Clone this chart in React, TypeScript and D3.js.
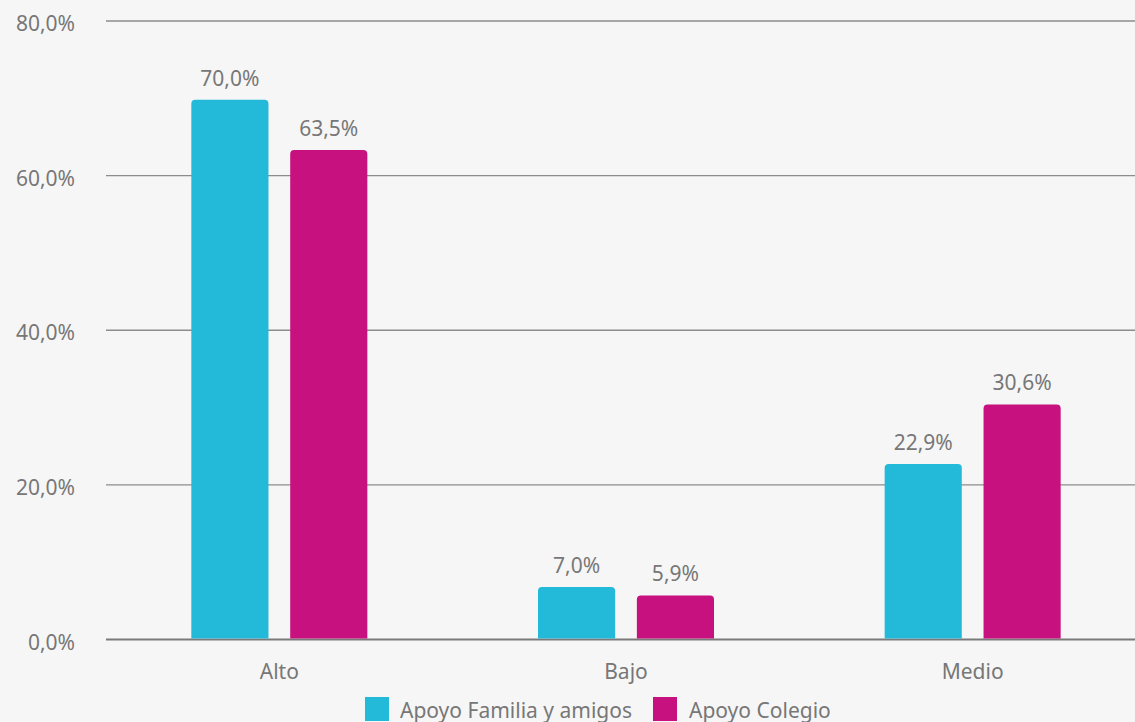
import React from "react";
import * as d3 from "d3";

const categories = ["Alto", "Bajo", "Medio"];
const seriesNames = ["Apoyo Familia y amigos", "Apoyo Colegio"];
const familiaValues = [70.0, 7.0, 22.9];
const colegioValues = [63.5, 5.9, 30.6];
const yTicks = [0, 20, 40, 60, 80];
const colors = ["#23b9d9", "#c6117e"];

const W = 1135;
const H = 722;

const fmt = (v: number) => v.toFixed(1).replace(".", ",") + "%";

function topRoundedRect(x: number, y: number, w: number, h: number, r: number) {
  const rr = Math.min(r, h / 2, w / 2);
  return `M${x},${y + h}V${y + rr}Q${x},${y} ${x + rr},${y}H${x + w - rr}Q${x + w},${y} ${x + w},${y + rr}V${y + h}Z`;
}

export default function App() {
  const y = d3.scaleLinear().domain([0, 80]).range([639.5, 21]);
  const x0 = d3.scaleBand<string>().domain(categories).range([106, 1146]).padding(0);
  const bw = x0.bandwidth();
  const x1 = d3
    .scaleBand<string>()
    .domain(seriesNames)
    .range([bw / 2 - 88, bw / 2 + 88])
    .paddingInner(0.22)
    .paddingOuter(0);
  const seriesValues = [familiaValues, colegioValues];
  const font = "'Source Sans Pro', 'Noto Sans', 'Open Sans', sans-serif";
  const textColor = "#777777";

  return (
    <svg
      width={W}
      height={H}
      style={{ position: "fixed", left: 0, top: 0, display: "block" }}
      fontFamily={font}
    >
      <rect x={0} y={0} width={W} height={H} fill="#f6f6f6" />
      {yTicks.map((t) => (
        <g key={t}>
          <line
            x1={106}
            x2={W}
            y1={y(t)}
            y2={y(t)}
            stroke={t === 0 ? "#7a7a7a" : "#8c8c8c"}
            strokeWidth={t === 0 ? 2 : 1.4}
          />
          <text x={75} y={y(t) + 10} textAnchor="end" fontSize={21} fill={textColor}>
            {fmt(t)}
          </text>
        </g>
      ))}
      {categories.map((c, ci) => (
        <g key={c} transform={`translate(${x0(c)},0)`}>
          {seriesNames.map((s, si) => {
            const v = seriesValues[si][ci];
            const bx = x1(s)!;
            const top = y(v) + 1.5;
            return (
              <g key={s}>
                <path
                  d={topRoundedRect(bx, top, x1.bandwidth(), y(0) - 1 - top, 4)}
                  fill={colors[si]}
                />
                <text
                  x={bx + x1.bandwidth() / 2}
                  y={top - 14}
                  textAnchor="middle"
                  fontSize={21}
                  fill={textColor}
                >
                  {fmt(v)}
                </text>
              </g>
            );
          })}
          <text x={bw / 2} y={679} textAnchor="middle" fontSize={21} fill={textColor}>
            {c}
          </text>
        </g>
      ))}
      <g>
        <rect x={365} y={697} width={24} height={24} fill={colors[0]} />
        <text x={400} y={718} fontSize={21} fill={textColor}>
          {seriesNames[0]}
        </text>
        <rect x={653} y={697} width={24} height={24} fill={colors[1]} />
        <text x={689} y={718} fontSize={21} fill={textColor}>
          {seriesNames[1]}
        </text>
      </g>
    </svg>
  );
}
